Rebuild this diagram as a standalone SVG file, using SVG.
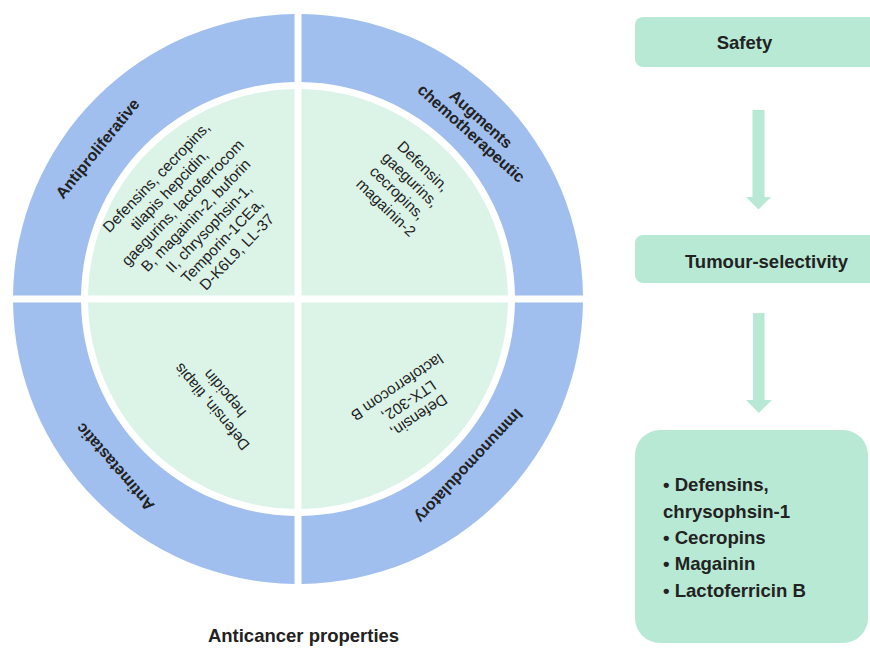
<svg xmlns="http://www.w3.org/2000/svg" width="870" height="648" viewBox="0 0 870 648">
<defs>
<style>
.ring{fill:#a0beee}
.core{fill:#dcf3e8}
.box{fill:#b8e9d4}
.arrow{fill:#b8e9d4}
text{font-family:"Liberation Sans",Arial,Helvetica,sans-serif;fill:#222}
.lbl{font-size:16px;font-weight:bold;text-anchor:middle}
.body{font-size:15.3px;text-anchor:middle}
.hdr{font-size:18.5px;font-weight:bold;text-anchor:middle}
.list{font-size:18.6px;font-weight:bold}
</style>
</defs>
<rect width="870" height="648" fill="#ffffff"/>

<g id="q-antiproliferative">
<path class="ring" d="M294.5,14.02 A285,285 0 0,0 13.02,295.5 L81.03,295.5 A217,217 0 0,1 294.5,82.03 Z"/>
<path class="core" d="M294.5,89.03 A210,210 0 0,0 88.03,295.5 L294.5,295.5 Z"/>
<text class="lbl" transform="translate(97.5,148.5) rotate(-51)" x="0" y="5.5">Antiproliferative</text>
<text class="body" transform="translate(197.5,214) rotate(-46)">
<tspan x="0" y="-50">Defensins, cecropins,</tspan>
<tspan x="0" y="-31.7">tilapis hepcidin,</tspan>
<tspan x="0" y="-13.4">gaegurins, lactoferrocom</tspan>
<tspan x="0" y="4.9">B, magainin-2, buforin</tspan>
<tspan x="0" y="23.2">II, chrysophsin-1,</tspan>
<tspan x="0" y="41.5">Temporin-1CEa,</tspan>
<tspan x="0" y="59.8">D-K6L9, LL-37</tspan>
</text>
</g>

<g id="q-augments">
<path class="ring" d="M301.5,14.02 A285,285 0 0,1 582.98,295.5 L514.97,295.5 A217,217 0 0,0 301.5,82.03 Z"/>
<path class="core" d="M301.5,89.03 A210,210 0 0,1 507.97,295.5 L301.5,295.5 Z"/>
<text class="lbl" transform="translate(477,127) rotate(42)">
<tspan x="0" y="-3">Augments</tspan>
<tspan x="0" y="14">chemotherapeutic</tspan>
</text>
<text class="body" transform="translate(405,188) rotate(44)">
<tspan x="0" y="-23">Defensin,</tspan>
<tspan x="0" y="-4.5">gaegurins,</tspan>
<tspan x="0" y="14">cecropins,</tspan>
<tspan x="0" y="32.5">magainin-2</tspan>
</text>
</g>

<g id="q-antimetastatic">
<path class="ring" d="M13.02,302.5 A285,285 0 0,0 294.5,583.98 L294.5,515.97 A217,217 0 0,1 81.03,302.5 Z"/>
<path class="core" d="M88.03,302.5 A210,210 0 0,0 294.5,508.97 L294.5,302.5 Z"/>
<text class="lbl" transform="translate(115,467) rotate(-131)" x="0" y="5.5">Antimetastatic</text>
<text class="body" transform="translate(218,399) rotate(-130)">
<tspan x="0" y="-4.5">Defensin, tilapis</tspan>
<tspan x="0" y="14">hepcidin</tspan>
</text>
</g>

<g id="q-immunomodulatory">
<path class="ring" d="M582.98,302.5 A285,285 0 0,1 301.5,583.98 L301.5,515.97 A217,217 0 0,0 514.97,302.5 Z"/>
<path class="core" d="M507.97,302.5 A210,210 0 0,1 301.5,508.97 L301.5,302.5 Z"/>
<text class="lbl" transform="translate(469,466) rotate(133)" x="0" y="5.5">Immunomodulatory</text>
<text class="body" transform="translate(407,402) rotate(146)">
<tspan x="0" y="-13">Defensin,</tspan>
<tspan x="0" y="5">LTX-302,</tspan>
<tspan x="0" y="23">lactoferrocom B</tspan>
</text>
</g>

<g id="title">
<text class="hdr" x="303.5" y="642">Anticancer properties</text>
</g>

<g id="n-safety">
<rect class="box" x="635" y="17" width="250" height="50" rx="8"/>
<text class="hdr" x="744.5" y="49">Safety</text>
</g>

<g id="n-tumour">
<rect class="box" x="635" y="235" width="250" height="48" rx="8"/>
<text class="hdr" x="766.5" y="268">Tumour-selectivity</text>
</g>

<g id="n-peptides">
<rect class="box" x="635" y="430" width="233" height="213" rx="25"/>
<text class="list" x="663" y="491">• Defensins,</text>
<text class="list" x="663" y="517.5">chrysophsin-1</text>
<text class="list" x="663" y="544">• Cecropins</text>
<text class="list" x="663" y="570">• Magainin</text>
<text class="list" x="663" y="596.5">• Lactoferricin B</text>
</g>

<g id="connectors">
<path class="arrow" d="M752.5,110 H764.5 V197 H771 L758.5,209.5 L746,197 H752.5 Z"/>
<path class="arrow" d="M753,313 H764.5 V400 H772 L758.8,413 L746,400 H753 Z"/>
</g>
</svg>
